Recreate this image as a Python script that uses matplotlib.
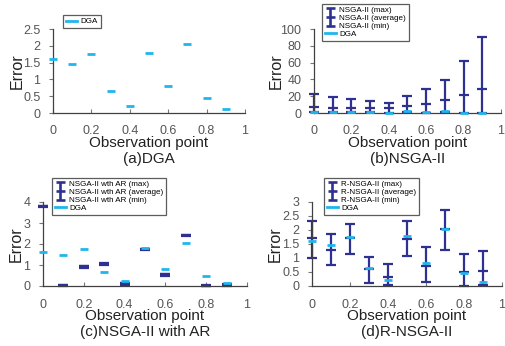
import matplotlib
matplotlib.use("Agg")
import matplotlib.pyplot as plt
from matplotlib.lines import Line2D
from matplotlib.legend_handler import HandlerBase

plt.rcParams["font.family"] = ["Liberation Sans", "DejaVu Sans"]

# data
obs = [0.0, 0.1, 0.2, 0.3, 0.4, 0.5, 0.6, 0.7, 0.8, 0.9]
dga = [1.62, 1.46, 1.76, 0.66, 0.22, 1.80, 0.81, 2.05, 0.46, 0.13]

nsga_max = [22.6, 18.7, 17.0, 14.3, 12.0, 20.0, 28.6, 39.0, 61.5, 90.0]
nsga_avg = [6.7, 6.0, 5.6, 6.3, 6.0, 8.7, 11.0, 15.0, 22.0, 29.0]
nsga_min = [1.5, 1.0, 1.0, 1.0, 0.5, 1.0, 0.5, 1.0, 0.0, 0.0]

ar_max = [3.82, 0.05, 0.96, 1.08, 0.15, 1.78, 0.59, 2.45, 0.04, 0.08]
ar_avg = [3.80, 0.03, 0.94, 1.05, 0.12, 1.75, 0.56, 2.43, 0.02, 0.05]
ar_min = [3.75, 0.00, 0.88, 1.00, 0.05, 1.70, 0.50, 2.38, 0.00, 0.00]

r_max = [2.33, 1.85, 2.20, 1.05, 0.80, 2.32, 1.40, 2.70, 1.15, 1.25]
r_avg = [1.70, 1.30, 1.70, 0.60, 0.32, 1.67, 0.70, 2.05, 0.50, 0.55]
r_min = [1.00, 0.75, 1.15, 0.10, 0.02, 1.07, 0.15, 1.27, 0.00, 0.02]

x_ticks = [0, 0.2, 0.4, 0.6, 0.8, 1.0]
x_labels = ["0", "0.2", "0.4", "0.6", "0.8", "1"]
y_ticks_a = [0, 0.5, 1, 1.5, 2, 2.5]
y_labels_a = ["0", "0.5", "1", "1.5", "2", "2.5"]
y_ticks_b = [0, 20, 40, 60, 80, 100]
y_labels_b = ["0", "20", "40", "60", "80", "100"]
y_ticks_c = [0, 1, 2, 3, 4]
y_labels_c = ["0", "1", "2", "3", "4"]
y_ticks_d = [0, 0.5, 1, 1.5, 2, 2.5, 3]
y_labels_d = ["0", "0.5", "1", "1.5", "2", "2.5", "3"]

NAVY = "#2E3192"
CYAN = "#1FB6EC"
W, H = 506, 346


class IBeamHandler(HandlerBase):
    # one error-bar glyph spanning three legend rows (max / average / min)
    def __init__(self, pitch):
        super().__init__()
        self.pitch = pitch

    def create_artists(self, legend, orig_handle, xdescent, ydescent,
                       width, height, fontsize, trans):
        cx = width / 2 - xdescent
        cy = height / 2 - ydescent
        p = self.pitch * fontsize
        half = 0.42 * width
        kw = dict(color=NAVY, lw=1.9, transform=trans, solid_capstyle="butt")
        return [
            Line2D([cx, cx], [cy - p, cy + p], **kw),
            Line2D([cx - half, cx + half], [cy + p, cy + p], **kw),
            Line2D([cx - half, cx + half], [cy, cy], **kw),
            Line2D([cx - half, cx + half], [cy - p, cy - p], **kw),
        ]


def px_box(l, t, r, b):
    return [l / W, 1 - b / H, (r - l) / W, (b - t) / H]


def style(ax, box, yticks, ylabels, ylab_px, caption):
    ax.set_xlim(0, 1)
    ax.set_ylim(yticks[0], yticks[-1])
    ax.set_xticks(x_ticks)
    ax.set_xticklabels(x_labels)
    ax.set_yticks(yticks)
    ax.set_yticklabels(ylabels)
    for s in ["top", "right"]:
        ax.spines[s].set_visible(False)
    for s in ["left", "bottom"]:
        ax.spines[s].set_color("#404040")
        ax.spines[s].set_linewidth(0.9)
    ax.tick_params(axis="x", direction="in", length=3, pad=9, labelsize=9,
                   labelcolor="#555555", color="#777777")
    ax.tick_params(axis="y", direction="out", length=3, pad=6, labelsize=9,
                   labelcolor="#555555", color="#777777")
    wpx = box[2] - box[0]
    hpx = box[3] - box[1]
    ax.set_ylabel("Error", fontsize=11.5, color="#222222")
    ax.yaxis.label.set_va("center")
    ax.yaxis.set_label_coords(-ylab_px / wpx, 0.5)
    ax.text(0.5, -30 / hpx, "Observation point", transform=ax.transAxes,
            ha="center", va="center", fontsize=11, color="#222222")
    ax.text(0.5, -46 / hpx, caption, transform=ax.transAxes,
            ha="center", va="center", fontsize=11, color="#222222")


def draw_errors(ax, vmax, vmin, vavg):
    lo = [a - b for a, b in zip(vavg, vmin)]
    hi = [b - a for a, b in zip(vavg, vmax)]
    ax.errorbar(obs, vavg, yerr=[lo, hi], fmt="_", color=NAVY, ms=6.5, mew=1.6,
                elinewidth=1.6, capsize=3.25, capthick=1.6, clip_on=False, zorder=2)


def draw_dga(ax):
    ax.plot(obs, dga, ls="none", marker="_", color=CYAN, ms=6, mew=2.0,
            clip_on=False, zorder=3)


def add_legend(fig, ax, names, left, top):
    empty = Line2D([], [], ls="none")
    ibeam = Line2D([], [], color=NAVY)
    dga_h = Line2D([], [], color=CYAN, lw=2)
    handles = [empty, ibeam, empty, dga_h] if names else [dga_h]
    labels = names + ["DGA"] if names else ["DGA"]
    ax.legend(handles, labels, loc="upper left",
              bbox_to_anchor=(left / W, 1 - top / H), bbox_transform=fig.transFigure,
              fontsize=5.8, frameon=True, fancybox=False, edgecolor="#333333",
              borderaxespad=0, borderpad=0.35, labelspacing=0.02,
              handlelength=1.4, handletextpad=0.4,
              handler_map={ibeam: IBeamHandler(1.12)})
    ax.get_legend().get_frame().set_linewidth(0.9)


fig = plt.figure(figsize=(W / 100, H / 100), dpi=100)

# (a) DGA
box_a = (53, 29, 245, 113)
ax_a = fig.add_axes(px_box(*box_a))
draw_dga(ax_a)
style(ax_a, box_a, y_ticks_a, y_labels_a, 36, "(a)DGA")
add_legend(fig, ax_a, [], 63, 15)

# (b) NSGA-II
box_b = (314, 29, 501, 113)
ax_b = fig.add_axes(px_box(*box_b))
draw_errors(ax_b, nsga_max, nsga_min, nsga_avg)
draw_dga(ax_b)
style(ax_b, box_b, y_ticks_b, y_labels_b, 38, "(b)NSGA-II")
add_legend(fig, ax_b, ["NSGA-II (max)", "NSGA-II (average)", "NSGA-II (min)"], 322, 4)

# (c) NSGA-II with AR
box_c = (43, 202, 247, 286)
ax_c = fig.add_axes(px_box(*box_c))
draw_errors(ax_c, ar_max, ar_min, ar_avg)
draw_dga(ax_c)
style(ax_c, box_c, y_ticks_c, y_labels_c, 27, "(c)NSGA-II with AR")
add_legend(fig, ax_c, ["NSGA-II wth AR (max)", "NSGA-II wth AR (average)",
                       "NSGA-II wth AR (min)"], 52, 178)

# (d) R-NSGA-II
box_d = (312, 202, 502, 286)
ax_d = fig.add_axes(px_box(*box_d))
draw_errors(ax_d, r_max, r_min, r_avg)
draw_dga(ax_d)
style(ax_d, box_d, y_ticks_d, y_labels_d, 37, "(d)R-NSGA-II")
add_legend(fig, ax_d, ["R-NSGA-II (max)", "R-NSGA-II (average)", "R-NSGA-II (min)"], 324, 178)

fig.savefig("out.png", dpi=100)
